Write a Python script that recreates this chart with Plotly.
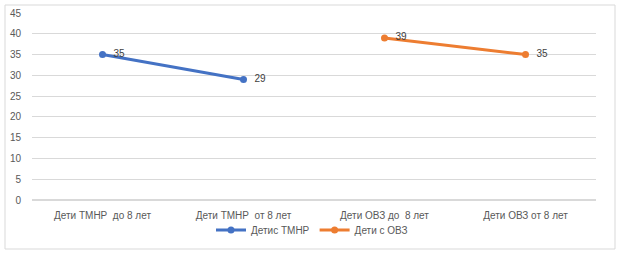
import plotly.graph_objects as go

categories = ["Дети ТМНР  до 8 лет", "Дети ТМНР  от 8 лет", "Дети ОВЗ до  8 лет", "Дети ОВЗ от 8 лет"]
tmnr_values = [35, 29, None, None]
ovz_values = [None, None, 39, 35]
series_names = ["Детис ТМНР", "Дети с ОВЗ"]
y_ticks = [0, 5, 10, 15, 20, 25, 30, 35, 40, 45]

font_family = "Liberation Sans, Arial, sans-serif"
gray = "#595959"

fig = go.Figure()
for name, vals, color in [(series_names[0], tmnr_values, "#4472C4"),
                          (series_names[1], ovz_values, "#ED7D31")]:
    fig.add_trace(go.Scatter(
        x=categories, y=vals, name=name, mode="lines+markers+text",
        line=dict(color=color, width=3), marker=dict(color=color, size=7),
        text=[("  " + str(v)) if v is not None else "" for v in vals],
        textposition="middle right",
        textfont=dict(color="#404040", size=10, family=font_family),
        cliponaxis=False,
    ))

fig.update_layout(
    width=624, height=255,
    margin=dict(l=32, r=28, t=13, b=55),
    paper_bgcolor="white", plot_bgcolor="white",
    font=dict(family=font_family, size=10, color=gray),
    xaxis=dict(type="category", range=[-0.5, 3.5], showgrid=False, showline=False, ticks="",
               tickfont=dict(size=10, color=gray), automargin=False, ticklabelstandoff=8),
    yaxis=dict(range=[0, 45], tickvals=y_ticks, showgrid=True, gridcolor="#D9D9D9",
               gridwidth=1, zeroline=True, zerolinecolor="#D9D9D9", showline=False,
               ticks="", tickfont=dict(size=10, color=gray), automargin=False,
               ticklabelstandoff=10),
    legend=dict(orientation="h", x=0.5, xanchor="center", xref="container",
                y=1 - 230 / 255, yanchor="middle", yref="container",
                font=dict(size=10, color=gray), itemwidth=30, tracegroupgap=0,
                bgcolor="rgba(0,0,0,0)"),
    showlegend=True,
)
fig.add_shape(type="rect", xref="paper", yref="paper",
              x0=-27/564, x1=(615-32)/564, y0=-(249-200)/187, y1=(200-5)/187,
              line=dict(color="#D9D9D9", width=1), fillcolor="rgba(0,0,0,0)", layer="below")

fig.write_html("out.html", config={"displayModeBar": False},
               post_script="document.body.style.margin='0px';document.body.style.overflow='hidden';")
